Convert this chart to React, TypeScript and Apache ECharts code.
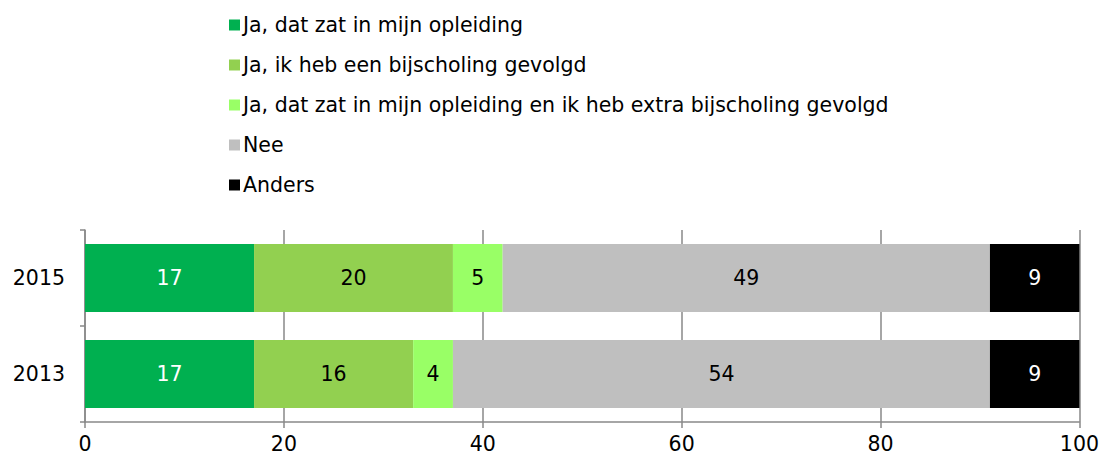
import React, { useEffect, useRef } from "react";
import * as echarts from "echarts";

const categories = ["2013", "2015"];
const seriesNames = [
  "Ja, dat zat in mijn opleiding",
  "Ja, ik heb een bijscholing gevolgd",
  "Ja, dat zat in mijn opleiding en ik heb extra bijscholing gevolgd",
  "Nee",
  "Anders",
];
const opleiding = [17, 17];
const bijscholing = [16, 20];
const beide = [4, 5];
const nee = [54, 49];
const anders = [9, 9];
const xTicks = [0, 20, 40, 60, 80, 100];

const colors = ["#00B050", "#92D050", "#99FF66", "#BFBFBF", "#000000"];
const labelColors = ["#ffffff", "#000000", "#000000", "#000000", "#ffffff"];
const FONT = "DejaVu Sans";
const FS = 20.5;

export default function App() {
  const ref = useRef<HTMLDivElement>(null);
  useEffect(() => {
    if (!ref.current) return;
    const chart = echarts.init(ref.current, undefined, { renderer: "svg" });
    const values = [opleiding, bijscholing, beide, nee, anders];
    chart.setOption({
      animation: false,
      textStyle: { fontFamily: FONT },
      legend: {
        orient: "vertical",
        left: 224,
        top: 9,
        itemWidth: 11,
        itemHeight: 11,
        itemGap: 18,
        icon: "rect",
        selectedMode: false,
        textStyle: { fontFamily: FONT, fontSize: FS, color: "#000", lineHeight: 22, padding: [0, 0, 0, -2] },
        data: seriesNames,
      },
      grid: { left: 85, right: 22, top: 230, bottom: 36, containLabel: false },
      xAxis: {
        type: "value",
        min: 0,
        max: 100,
        interval: 20,
        axisLine: { show: true, lineStyle: { color: "#898989", width: 1.5 } },
        axisTick: { show: true, length: 6, lineStyle: { color: "#898989", width: 1.5 } },
        splitLine: { show: true, lineStyle: { color: "#898989", width: 1.5 } },
        axisLabel: {
          margin: 11,
          fontFamily: FONT,
          fontSize: FS,
          color: "#000",
          formatter: (v: number) => (xTicks.includes(v) ? String(v) : ""),
        },
      },
      yAxis: {
        type: "category",
        data: categories,
        axisLine: { show: true, onZero: false, lineStyle: { color: "#898989", width: 1.5 } },
        axisTick: { show: true, length: 5, lineStyle: { color: "#898989", width: 1.5 } },
        axisLabel: { margin: 20, fontFamily: FONT, fontSize: FS, color: "#000" },
      },
      series: seriesNames.map((name, i) => ({
        name,
        type: "bar",
        stack: "total",
        barCategoryGap: "29%",
        data: values[i],
        itemStyle: { color: colors[i] },
        label: {
          show: true,
          position: "inside",
          fontFamily: FONT,
          fontSize: FS,
          color: labelColors[i],
        },
      })),
    });
    return () => chart.dispose();
  }, []);
  return (
    <div
      ref={ref}
      style={{ position: "absolute", left: 0, top: 0, width: 1102, height: 458 }}
    />
  );
}
